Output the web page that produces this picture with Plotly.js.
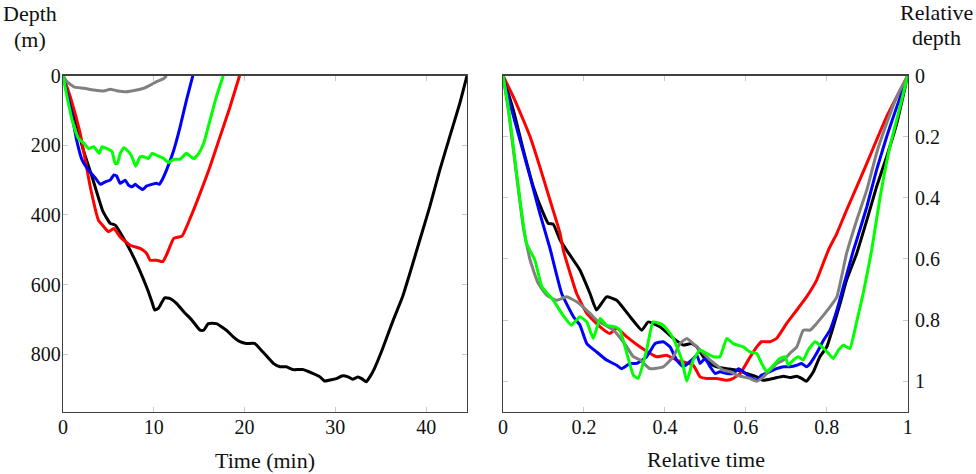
<!DOCTYPE html>
<html>
<head>
<meta charset="utf-8">
<script src="https://cdn.plot.ly/plotly-3.0.1.min.js"></script>
<style>html,body{margin:0;padding:0;background:#fff;}#chart{width:976px;height:474px;}</style>
</head>
<body>
<div id="chart"></div>
<script>
// ---- Left panel: absolute time (min) vs depth (m) ----
const blackT = [0,1.1,2.2,3.2,4.4,5.2,5.75,7.0,8.1,8.9,9.4,9.8,10.1,10.5,11.2,11.8,12.5,13.3,14.2,15.1,15.5,16.0,16.9,18.0,18.75,19.5,20.2,21.1,22.0,23.2,23.9,24.6,25.3,26.4,27.5,28.3,28.8,29.4,30.1,30.8,31.4,31.9,32.5,32.9,33.4,33.8,34.3,35.2,36.3,37.4,38.2,39.3,40.4,41.5,42.6,43.7,44.5];
const blackD = [0,98,210,290,390,424,429,482,539,587,620,650,673,668,638,640,654,678,702,731,731,712,712,731,750,764,769,769,793,827,836,836,844,844,855,865,877,874,870,862,865,872,865,870,879,865,841,784,707,635,568,472,376,271,175,80,0];

const redT = [0,0.8,1.9,3.0,3.9,4.5,5.0,5.6,6.3,7.4,8.5,9.2,9.6,10.3,11.0,11.4,12.2,13.1,14.0,15.1,16.2,17.3,18.4,19.45];
const redD = [0,60,166,319,415,434,448,439,463,487,496,510,530,530,534,515,467,461,410,338,261,175,89,0];

const greenT = [0,0.44,1.0,1.7,2.3,2.8,3.4,3.7,4.0,4.3,4.8,5.4,5.75,6.0,6.3,6.7,7.2,7.6,8.0,8.5,8.9,9.4,9.8,10.3,11.1,11.6,12.2,12.9,13.6,14.4,14.9,15.5,16.2,16.9,17.65];
const greenD = [0,60,127,180,194,209,204,214,223,204,209,218,252,252,223,207,218,233,260,233,233,238,223,228,238,250,240,240,223,238,225,194,127,60,0];

const blueT = [0,0.8,1.5,2.1,2.8,3.6,4.1,4.65,5.2,5.6,5.9,6.3,6.85,7.2,7.6,7.95,8.3,8.8,9.2,9.8,10.3,10.6,10.9,11.4,12.2,12.9,13.6,14.3];
const blueD = [0,89,185,242,271,295,312,305,300,285,288,309,300,314,319,312,319,327,317,312,309,312,300,271,214,147,70,0];

const grayT = [0,0.44,1.2,2.3,3.4,4.5,5.2,5.9,7.0,8.1,8.9,9.6,10.3,11.1,11.4];
const grayD = [0,17,32,36,41,44,39,43,46,41,36,27,17,8,0];

// ---- Right panel: relative time vs relative depth ----
const blackRT = [0,.0255,.0502,.075,.0997,.112,.124,.141,.157,.190,.215,.231,.256,.281,.314,.343,.359,.388,.421,.446,.466,.479,.495,.512,.528,.553,.577,.602,.627,.643,.668,.693,.709,.726,.738,.750,.767,.783,.800,.816,.833,.849,.874,.899,.923,.948,.973,1];
const blackRD = [0,.112,.243,.364,.451,.484,.486,.538,.571,.636,.713,.767,.724,.735,.789,.833,.806,.822,.860,.882,.877,.888,.920,.942,.953,.959,.964,.975,.986,.997,.991,.984,.988,.984,.991,1.0,.969,.920,.888,.822,.746,.669,.582,.473,.364,.265,.156,0];

const redRT = [0,.0255,.0502,.067,.091,.116,.141,.149,.166,.182,.207,.240,.264,.281,.306,.339,.380,.404,.429,.470,.487,.503,.528,.553,.569,.586,.606,.627,.639,.660,.676,.701,.726,.750,.775,.804,.825,.849,.874,.899,.923,.948,.973,1];
const redRD = [0,.069,.145,.200,.298,.407,.516,.571,.647,.713,.778,.822,.844,.827,.855,.888,.920,.915,.931,.948,.986,.991,.991,.997,.991,.975,.931,.888,.871,.871,.860,.811,.767,.724,.669,.571,.516,.440,.364,.287,.211,.134,.069,0];

const blueRT = [0,.0173,.042,.067,.091,.116,.145,.174,.190,.207,.231,.256,.281,.293,.314,.330,.355,.376,.396,.413,.429,.446,.466,.479,.487,.499,.512,.524,.536,.553,.569,.582,.594,.610,.627,.639,.660,.676,.693,.709,.726,.738,.750,.759,.775,.792,.808,.825,.841,.866,.874,.899,.923,.948,.973,1];
const blueRD = [0,.091,.211,.331,.451,.565,.713,.789,.816,.877,.904,.931,.948,.959,.942,.942,.920,.877,.871,.888,.931,.953,.931,.915,.942,.926,.953,.975,.969,.975,.975,.959,.969,.986,.997,.980,.969,.959,.953,.953,.948,.942,.953,.942,.909,.866,.833,.768,.691,.571,.538,.429,.309,.200,.102,0];

const grayRT = [0,.0132,.0255,.038,.050,.067,.087,.108,.132,.157,.182,.215,.231,.273,.306,.322,.339,.363,.396,.421,.437,.454,.479,.495,.512,.528,.544,.561,.577,.594,.610,.627,.643,.660,.676,.693,.709,.726,.742,.759,.775,.792,.808,.825,.849,.874,.899,.923,.948,.973,1];
const grayRD = [0,.112,.243,.374,.495,.604,.680,.718,.735,.724,.740,.778,.800,.833,.888,.920,.931,.959,.953,.920,.877,.860,.888,.909,.931,.948,.964,.969,.980,.986,.991,1.0,.986,.964,.942,.931,.909,.888,.833,.833,.811,.784,.757,.724,.582,.473,.374,.254,.156,.069,0];

const greenRT = [0,.0132,.0255,.042,.058,.079,.096,.124,.148,.169,.190,.207,.223,.240,.256,.277,.289,.306,.322,.334,.355,.371,.396,.421,.442,.454,.470,.487,.503,.520,.536,.553,.569,.594,.610,.627,.639,.652,.668,.684,.697,.705,.717,.730,.742,.754,.771,.788,.804,.816,.829,.841,.857,.873,.890,.911,.932,.956,.981,1];
const greenRD = [0,.102,.232,.407,.549,.604,.691,.735,.784,.817,.789,.806,.860,.795,.817,.822,.833,.909,.980,.991,.898,.806,.817,.860,.931,1.0,.931,.898,.909,.920,.920,.860,.877,.888,.904,.909,.942,.969,.948,.926,.920,.948,.931,.920,.931,.898,.871,.888,.909,.926,.898,.882,.893,.811,.713,.571,.396,.232,.102,0];

const xTicksLeft = [0,10,20,30,40];
const yTicksLeft = [0,200,400,600,800];
const xTicksRight = [0,0.2,0.4,0.6,0.8,1];
const xTickTextRight = ['0','0.2','0.4','0.6','0.8','1'];
const yTicksRight = [0,0.2,0.4,0.6,0.8,1];
const yTickTextRight = ['0','0.2','0.4','0.6','0.8','1'];

const W = 3;
function tr(x, y, color, xa, ya) {
  return {x: x, y: y, xaxis: xa, yaxis: ya, type: 'scatter', mode: 'lines',
          line: {color: color, width: W, shape: 'spline', smoothing: 0.4}, hoverinfo: 'skip', showlegend: false};
}
const data = [
  tr(blackT, blackD, '#000000', 'x', 'y'),
  tr(redT, redD, '#ff0000', 'x', 'y'),
  tr(blueT, blueD, '#0000ff', 'x', 'y'),
  tr(grayT, grayD, '#808080', 'x', 'y'),
  tr(greenT, greenD, '#00ff00', 'x', 'y'),
  tr(blackRT, blackRD, '#000000', 'x2', 'y2'),
  tr(redRT, redRD, '#ff0000', 'x2', 'y2'),
  tr(blueRT, blueRD, '#0000ff', 'x2', 'y2'),
  tr(grayRT, grayRD, '#808080', 'x2', 'y2'),
  tr(greenRT, greenRD, '#00ff00', 'x2', 'y2')
];

const FONT = 'Liberation Serif, DejaVu Serif, serif';
const tickFont = {family: FONT, size: 20, color: '#111'};
const titleFont = {family: FONT, size: 22, color: '#111'};
const axBase = {
  showgrid: false, zeroline: false, showline: true, linecolor: '#404040', linewidth: 1.3,
  mirror: 'allticks', ticks: 'inside', ticklen: 5, tickwidth: 1, tickcolor: '#c8c8c8',
  tickfont: tickFont, fixedrange: true
};
function label(text, px, py) {
  return {text: text, xref: 'paper', yref: 'paper', x: px/976, y: 1-py/474, xanchor: 'center', yanchor: 'middle',
          showarrow: false, font: titleFont};
}
const layout = {
  width: 976, height: 474,
  margin: {l: 0, r: 0, t: 0, b: 0},
  paper_bgcolor: '#ffffff', plot_bgcolor: '#ffffff',
  font: {family: FONT, color: '#111'},
  xaxis: Object.assign({}, axBase, {domain: [63/976, 467/976], range: [0, 44.5],
          tickmode: 'array', tickvals: xTicksLeft, anchor: 'y', ticklabelstandoff: -3}),
  yaxis: Object.assign({}, axBase, {domain: [1-411.7/474, 1-75.7/474], range: [965, 0],
          tickmode: 'array', tickvals: yTicksLeft, anchor: 'x', ticklabelstandoff: -3}),
  xaxis2: Object.assign({}, axBase, {domain: [503/976, 907.7/976], range: [0, 1],
          tickmode: 'array', tickvals: xTicksRight, ticktext: xTickTextRight, anchor: 'y2', ticklabelstandoff: -3}),
  yaxis2: Object.assign({}, axBase, {domain: [1-411.7/474, 1-75.7/474], range: [1.1, 0],
          tickmode: 'array', tickvals: yTicksRight, ticktext: yTickTextRight, anchor: 'x2', side: 'right', ticklabelstandoff: 2}),
  annotations: [
    label('Depth', 30, 13),
    label('(m)', 30, 39),
    label('Relative', 936, 12),
    label('depth', 936, 37),
    label('Time (min)', 265, 460),
    label('Relative time', 706, 459)
  ]
};
Plotly.newPlot('chart', data, layout, {displayModeBar: false, staticPlot: true});
</script>
</body>
</html>
